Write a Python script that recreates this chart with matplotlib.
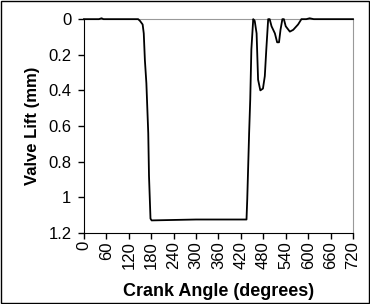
import matplotlib
matplotlib.use("Agg")
import matplotlib.pyplot as plt
import matplotlib.patches as pch

plt.rcParams['font.family'] = ['Liberation Sans', 'DejaVu Sans']

# valve lift trace (crank angle deg, lift mm)
angle = [0, 40, 47, 52, 145, 150, 157, 160, 163, 167, 172, 174, 178, 181,
         300, 435, 437, 442, 445, 448, 453, 457, 462, 466, 472, 479, 484, 488,
         493, 497, 502, 511, 517, 522, 526, 531, 535, 540, 551, 560, 573, 582,
         595, 604, 615, 631, 640, 720]
lift = [0, 0, -0.005, 0, 0, 0.01, 0.03, 0.08, 0.23, 0.36, 0.64, 0.88, 1.12, 1.13,
        1.125, 1.125, 1.01, 0.64, 0.45, 0.17, 0.0, 0.01, 0.08, 0.34, 0.40, 0.39, 0.32, 0.17,
        0.0, 0.0, 0.04, 0.08, 0.13, 0.13, 0.06, 0.0, 0.0, 0.04, 0.07, 0.06, 0.03, 0.0,
        0.0, -0.005, 0.0, 0.0, 0.0, 0.0]

xticks = list(range(0, 721, 60))
yticks = [0, 0.2, 0.4, 0.6, 0.8, 1, 1.2]
ylabels = ['0', '0.2', '0.4', '0.6', '0.8', '1', '1.2']

fig = plt.figure(figsize=(3.7, 3.04), dpi=100)
ax = fig.add_axes([0.227, 0.234, 0.727, 0.703])

ax.plot(angle, lift, color='black', linewidth=1.3, clip_on=False, zorder=5)

ax.set_xlim(0, 720)
ax.set_ylim(1.2, 0)
ax.set_xticks(xticks)
ax.set_xticklabels([str(t) for t in xticks], rotation=90)
ax.set_yticks(yticks)
ax.set_yticklabels(ylabels)
ax.tick_params(axis='both', labelsize=12, direction='out', length=4, width=1, pad=2)
ax.tick_params(axis='y', pad=5)

ax.spines['top'].set_color('#999999')
ax.spines['right'].set_color('#999999')
ax.spines['left'].set_color('black')
ax.spines['bottom'].set_color('black')

ax.set_xlabel('Crank Angle (degrees)', fontsize=13, fontweight='bold', labelpad=10)
ax.set_ylabel('Valve Lift (mm)', fontsize=12, fontweight='bold', labelpad=6)

# outer frame round the whole chart
fig.patches.append(pch.Rectangle((0.004, 0.004), 0.992, 0.992, transform=fig.transFigure,
                                 fill=False, edgecolor='black', linewidth=1))

fig.savefig('out.png', dpi=100)
